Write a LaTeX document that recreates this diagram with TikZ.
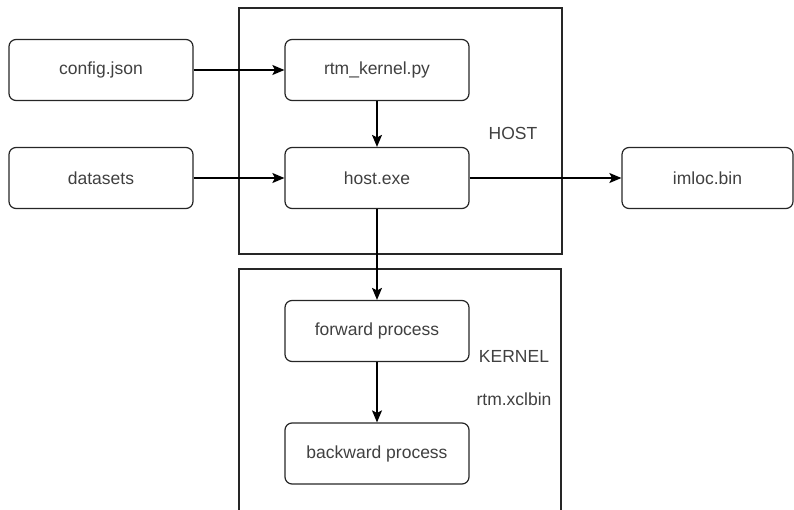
\documentclass[tikz,border=0pt]{standalone}
\usepackage{fontspec}
\setmainfont{Liberation Sans}
\usetikzlibrary{arrows.meta}
\begin{document}
\begin{tikzpicture}[x=1pt,y=-1pt,
  box/.style={draw=black!85,line width=1.2pt,rounded corners=7pt,minimum width=184pt,minimum height=61pt,inner sep=0pt,font=\fontsize{17.5}{20}\selectfont,text=black!75},
  frame/.style={draw=black!85,line width=1.2pt},
  lbl/.style={font=\fontsize{17.5}{20}\selectfont,text=black!75,inner sep=0pt},
  conn/.style={draw=black,line width=1.2pt,-{Stealth[length=12pt,width=10pt,inset=2.5pt]}}]
\useasboundingbox (0,0) rectangle (794,510);
% frames
\draw[frame] (239,8) rectangle (562,254);
\draw[frame] (239,512) -- (239,269) -- (561,269) -- (561,512);
% nodes
\node[box] (cfg) at (101,70) {config.json};
\node[box] (ds) at (101,178) {datasets};
\node[box] (rtm) at (377,70) {rtm\_kernel.py};
\node[box] (host) at (377,178) {host.exe};
\node[box,minimum width=171pt] (iml) at (707.5,178) {imloc.bin};
\node[box] (fwd) at (377,331) {forward process};
\node[box] (bwd) at (377,453.5) {backward process};
\node[lbl] (hostl) at (513,133) {HOST};
\node[lbl] (kern) at (514,356) {KERNEL};
\node[lbl] (xcl) at (514,399) {rtm.xclbin};
% connectors
\draw[conn] (cfg) -- (rtm);
\draw[conn] (ds) -- (host);
\draw[conn] (rtm) -- (host);
\draw[conn] (host) -- (iml);
\draw[conn] (host) -- (fwd);
\draw[conn] (fwd) -- (bwd);
\end{tikzpicture}
\end{document}
